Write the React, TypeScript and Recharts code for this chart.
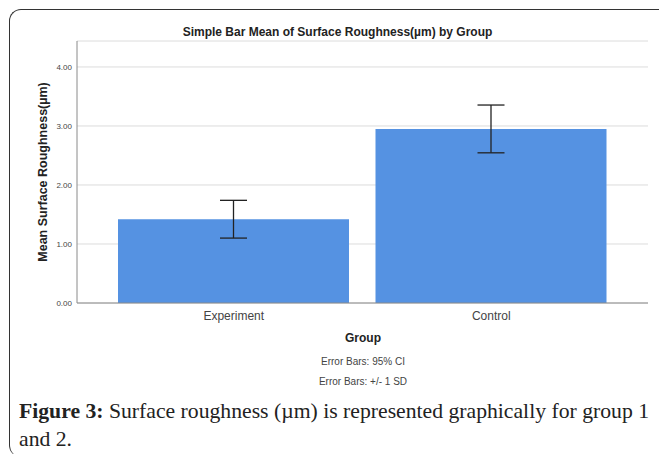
import { BarChart, Bar, XAxis, YAxis, CartesianGrid, ErrorBar, Label } from 'recharts';

const groups = ['Experiment', 'Control'];
const means = [1.42, 2.95];
const errors = [0.32, 0.405];
const yTicks = [0, 1, 2, 3, 4];

const chartData = groups.map((g, i) => ({ group: g, mean: means[i], err: errors[i] }));

const sans = '"Liberation Sans", Arial, sans-serif';
const serif = '"Liberation Serif", "Times New Roman", serif';

export default function App() {
  return (
    <div
      style={{
        position: 'absolute',
        left: 0,
        top: 0,
        width: 659,
        height: 454,
        overflow: 'hidden',
        background: '#fff',
        fontFamily: sans,
      }}
    >
      {/* frame: only top and left edges visible */}
      <div
        style={{
          position: 'absolute',
          left: 9,
          top: 9,
          width: 720,
          height: 447,
          borderTop: '1.5px solid #333',
          borderLeft: '1.5px solid #333',
          borderTopLeftRadius: 12,
          borderBottomLeftRadius: 12,
        }}
      />
      <div
        style={{
          position: 'absolute',
          left: 0,
          width: 675,
          top: 25,
          textAlign: 'center',
          fontSize: 12,
          fontWeight: 'bold',
          color: '#222',
        }}
      >
        Simple Bar Mean of Surface Roughness(µm) by Group
      </div>

      <div style={{ position: 'absolute', left: 0, top: 0 }}>
        <BarChart
          width={659}
          height={330}
          data={chartData}
          margin={{ top: 41, right: 11, left: 0, bottom: 0 }}
        >
          <CartesianGrid vertical={false} stroke="#dcdcdc" />
          <XAxis
            dataKey="group"
            height={27}
            padding={{ left: 28, right: 28 }}
            tickLine={false}
            axisLine={{ stroke: '#8a8a8a' }}
            tick={{ fontSize: 12, fill: '#444', fontFamily: sans }}
          />
          <YAxis
            width={77}
            domain={[0, 4.44]}
            ticks={yTicks}
            tickFormatter={v => v.toFixed(2)}
            tickLine={false}
            tickSize={3}
            tickMargin={2}
            axisLine={{ stroke: '#8a8a8a' }}
            tick={{ fontSize: 8, fill: '#444', fontFamily: sans }}
          >
            <Label
              value="Mean Surface Roughness(µm)"
              angle={-90}
              position="center"
              dx={4}
              style={{ fontSize: 12.5, fontWeight: 'bold', fill: '#222', fontFamily: sans }}
            />
          </YAxis>
          <Bar dataKey="mean" fill="#5592e2" barSize={231} isAnimationActive={false}>
            <ErrorBar dataKey="err" width={13.5} stroke="#222" strokeWidth={1.3} />
          </Bar>
        </BarChart>
      </div>

      <div
        style={{
          position: 'absolute',
          left: 263,
          width: 200,
          top: 331,
          textAlign: 'center',
          fontSize: 12,
          fontWeight: 'bold',
          color: '#222',
        }}
      >
        Group
      </div>
      <div
        style={{
          position: 'absolute',
          left: 263,
          width: 200,
          top: 352,
          textAlign: 'center',
          fontSize: 10,
          color: '#444',
          lineHeight: '20px',
        }}
      >
        Error Bars: 95% CI
        <br />
        Error Bars: +/- 1 SD
      </div>

      <div
        style={{
          position: 'absolute',
          left: 19,
          top: 399,
          fontFamily: serif,
          fontSize: 21.7,
          lineHeight: '25px',
          color: '#222',
          whiteSpace: 'nowrap',
        }}
      >
        <b>Figure 3:</b> Surface roughness (µm) is represented graphically for group 1
      </div>
      <div
        style={{
          position: 'absolute',
          left: 19,
          top: 430,
          fontFamily: serif,
          fontSize: 21.7,
          lineHeight: '19px',
          color: '#222',
          whiteSpace: 'nowrap',
        }}
      >
        and 2.
      </div>
    </div>
  );
}
